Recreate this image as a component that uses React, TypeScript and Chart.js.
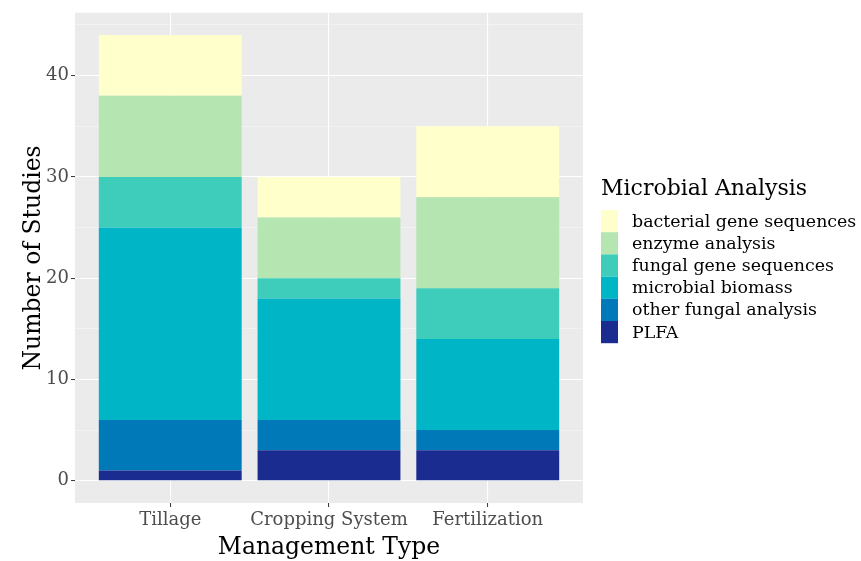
import React, { useEffect, useRef } from "react";
import { Chart, registerables } from "chart.js";

Chart.register(...registerables);

const categories = ["Tillage", "Cropping System", "Fertilization"];
const legendTitle = "Microbial Analysis";
const xTitle = "Management Type";
const yTitle = "Number of Studies";

// legend order (top to bottom)
const seriesNames = [
  "bacterial gene sequences",
  "enzyme analysis",
  "fungal gene sequences",
  "microbial biomass",
  "other fungal analysis",
  "PLFA",
];
const seriesColors = ["#ffffcc", "#b5e5b0", "#3ecdbb", "#00b5c5", "#0079b8", "#1a2c90"];

const bacterialGene = [6, 4, 7];
const enzymeAnalysis = [8, 6, 9];
const fungalGene = [5, 2, 5];
const microbialBiomass = [19, 12, 9];
const otherFungal = [5, 3, 2];
const plfa = [1, 3, 3];

const yTickValues = [0, 5, 10, 15, 20, 25, 30, 35, 40, 45];
const yLabelValues = [0, 10, 20, 30, 40];

const FONT = "'DejaVu Serif', 'Liberation Serif', serif";

export default function App() {
  const ref = useRef<HTMLCanvasElement | null>(null);

  useEffect(() => {
    const canvas = ref.current;
    if (!canvas) return;
    const seriesValues = [bacterialGene, enzymeAnalysis, fungalGene, microbialBiomass, otherFungal, plfa];
    // stack bottom-up: PLFA first
    const order = [5, 4, 3, 2, 1, 0];
    const datasets = order.map((i) => ({
      label: seriesNames[i],
      data: seriesValues[i].map((v, k) => ({ x: k, y: v })),
      backgroundColor: seriesColors[i],
      borderWidth: 0,
      categoryPercentage: 1,
      barPercentage: 0.9,
    }));

    const decor = {
      id: "decor",
      beforeDraw(chart: any) {
        const { ctx, chartArea: a } = chart;
        ctx.save();
        ctx.fillStyle = "#ffffff";
        ctx.fillRect(0, 0, chart.width, chart.height);
        ctx.fillStyle = "#ebebeb";
        ctx.fillRect(a.left, a.top, a.right - a.left, a.bottom - a.top);
        ctx.restore();
      },
      afterDraw(chart: any) {
        const { ctx, chartArea: a } = chart;
        ctx.save();
        ctx.fillStyle = "#000000";
        // x title
        ctx.font = `23.5px ${FONT}`;
        ctx.textAlign = "center";
        ctx.textBaseline = "alphabetic";
        ctx.fillText(xTitle, (a.left + a.right) / 2, 554);
        // y title
        ctx.save();
        ctx.translate(40, (a.top + a.bottom) / 2);
        ctx.rotate(-Math.PI / 2);
        ctx.fillText(yTitle, 0, 0);
        ctx.restore();
        // legend
        ctx.textAlign = "left";
        ctx.font = `22px ${FONT}`;
        ctx.fillText(legendTitle, 601, 195);
        const keyTop = 210;
        const keyH = 22.2;
        ctx.font = `17.4px ${FONT}`;
        ctx.textBaseline = "middle";
        seriesNames.forEach((name, i) => {
          const y = keyTop + i * keyH;
          ctx.fillStyle = seriesColors[i];
          ctx.fillRect(601, y, 17, keyH);
          ctx.fillStyle = "#000000";
          ctx.fillText(name, 632, y + keyH / 2 + 1);
        });
        ctx.restore();
      },
    };

    const chart = new Chart(canvas, {
      type: "bar",
      data: { datasets },
      options: {
        animation: false,
        responsive: false,
        maintainAspectRatio: false,
        layout: { padding: { top: 12, right: 278, left: 0, bottom: 0 } },
        plugins: { legend: { display: false }, tooltip: { enabled: false } },
        scales: {
          x: {
            type: "linear",
            stacked: true,
            offset: false,
            min: -0.6,
            max: 2.6,
            afterBuildTicks: (scale: any) => {
              scale.ticks = categories.map((_, i) => ({ value: i }));
            },
            afterFit: (scale: any) => {
              scale.height = 58;
            },
            border: { display: false },
            grid: {
              offset: false,
              color: "#ffffff",
              lineWidth: 1.1,
              tickColor: "#333333",
              tickLength: 4,
              tickWidth: 1,
            },
            ticks: {
              autoSkip: false,
              maxRotation: 0,
              padding: 3,
              color: "#4d4d4d",
              font: { family: FONT, size: 18 },
              callback: (v: any) => categories[v] ?? "",
            },
          },
          y: {
            type: "linear",
            stacked: true,
            min: -2.2,
            max: 46.2,
            afterBuildTicks: (scale: any) => {
              scale.ticks = yTickValues.map((v) => ({ value: v }));
            },
            afterFit: (scale: any) => {
              scale.width = 75;
            },
            border: { display: false },
            grid: {
              color: (c: any) => (yLabelValues.includes(c.tick?.value) ? "#ffffff" : "#f6f6f6"),
              lineWidth: (c: any) => (yLabelValues.includes(c.tick?.value) ? 1.1 : 0.6),
              tickColor: (c: any) => (yLabelValues.includes(c.tick?.value) ? "#333333" : "rgba(0,0,0,0)"),
              tickLength: 4,
              tickWidth: 1,
            },
            ticks: {
              autoSkip: false,
              padding: 2,
              color: "#4d4d4d",
              font: { family: FONT, size: 18 },
              callback: (v: any) => (yLabelValues.includes(v) ? String(v) : ""),
            },
          },
        },
      },
      plugins: [decor],
    } as any);

    return () => chart.destroy();
  }, []);

  return (
    <div style={{ position: "absolute", left: 0, top: 0, width: 861, height: 561 }}>
      <canvas ref={ref} width={861} height={561} style={{ width: 861, height: 561 }} />
    </div>
  );
}
